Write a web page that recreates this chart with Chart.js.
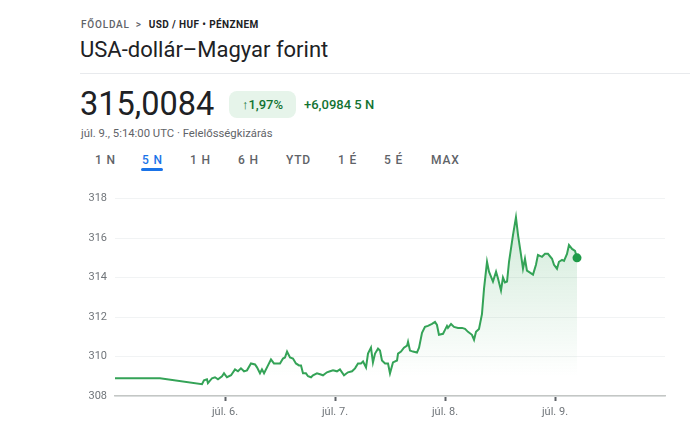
<!DOCTYPE html>
<html lang="hu">
<head>
<meta charset="utf-8">
<script src="https://cdn.jsdelivr.net/npm/chart.js@4.4.1/dist/chart.umd.min.js"></script>
<style>
    html, body { margin: 0; padding: 0; background: #fff; }
    body { width: 690px; height: 428px; position: relative; overflow: hidden; font-family: Roboto, Arial, sans-serif; color: #202124; }
    .abs { position: absolute; white-space: nowrap; }
    .crumb { left: 81px; top: 19px; font-size: 10px; letter-spacing: 0.8px; color: #5f6368; font-weight: 500; }
    .crumb b { color: #202124; font-weight: 700; letter-spacing: 0.4px; }
    .crumb .sep { margin: 0 7px 0 6px; color: #5f6368; }
    .title { left: 80px; top: 37px; font-size: 22px; color: #202124; }
    .divider { left: 80px; top: 73px; width: 610px; height: 1px; background: #e8eaed; }
    .price { left: 80px; top: 85px; font-size: 32.5px; color: #202124; }
    .badge { left: 229px; top: 91px; width: 67px; height: 27px; line-height: 27px; border-radius: 8px; background: #e6f4ea; color: #137333; font-size: 13px; font-weight: 500; text-align: center; }
    .change { left: 304px; top: 91px; line-height: 27px; font-size: 13px; font-weight: 500; color: #137333; }
    .sub { left: 81px; top: 127px; font-size: 11.3px; color: #5f6368; }
    .tab { top: 153px; font-size: 12px; font-weight: 500; letter-spacing: 0.8px; color: #5f6368; }
    .tab.on { color: #1a73e8; }
    .underline { left: 141px; top: 168px; width: 22px; height: 3px; border-radius: 2px; background: #1a73e8; }
    #wrap { position: absolute; left: 82px; top: 184px; width: 600px; height: 244px; }
</style>
</head>
<body>
<div class="abs crumb">FŐOLDAL<span class="sep">&gt;</span><b>USD / HUF • PÉNZNEM</b></div>
<div class="abs title">USA-dollár–Magyar forint</div>
<div class="abs divider"></div>
<div class="abs price">315,0084</div>
<div class="abs badge">↑1,97%</div>
<div class="abs change">+6,0984 5 N</div>
<div class="abs sub">júl. 9., 5:14:00 UTC · Felelősségkizárás</div>
<div class="abs tab" style="left:95px">1 N</div>
<div class="abs tab on" style="left:142px">5 N</div>
<div class="abs tab" style="left:190px">1 H</div>
<div class="abs tab" style="left:238px">6 H</div>
<div class="abs tab" style="left:286px">YTD</div>
<div class="abs tab" style="left:338px">1 É</div>
<div class="abs tab" style="left:384px">5 É</div>
<div class="abs tab" style="left:431px">MAX</div>
<div class="abs underline"></div>
<div id="wrap"><canvas id="arfolyam"></canvas></div>

<script>
// Időpontok (július napja, tört nap) és árfolyam értékek (HUF / USD)
const napok = [
    5.000, 5.409, 5.791, 5.809, 5.836, 5.845, 5.882, 5.909, 5.936, 5.973,
    5.991, 6.018, 6.055, 6.091, 6.118, 6.145, 6.173, 6.200, 6.236, 6.273,
    6.291, 6.318, 6.336, 6.355, 6.391, 6.418, 6.445, 6.473, 6.500, 6.527,
    6.545, 6.564, 6.591, 6.618, 6.645, 6.673, 6.691, 6.709, 6.736, 6.755,
    6.782, 6.800, 6.836, 6.864, 6.891, 6.927, 6.955, 6.982, 7.018, 7.045,
    7.082, 7.118, 7.155, 7.182, 7.209, 7.236, 7.255, 7.282, 7.300, 7.327,
    7.345, 7.364, 7.391, 7.409, 7.427, 7.455, 7.482, 7.500, 7.527, 7.564,
    7.573, 7.600, 7.627, 7.655, 7.664, 7.682, 7.709, 7.745, 7.764, 7.791,
    7.818, 7.845, 7.882, 7.909, 7.927, 7.945, 7.982, 8.000, 8.018, 8.027,
    8.055, 8.082, 8.118, 8.155, 8.182, 8.209, 8.245, 8.264, 8.282, 8.309,
    8.336, 8.355, 8.382, 8.400, 8.436, 8.464, 8.482, 8.509, 8.527, 8.545,
    8.564, 8.582, 8.618, 8.645, 8.664, 8.691, 8.709, 8.727, 8.745, 8.773,
    8.800, 8.827, 8.845, 8.882, 8.909, 8.936, 8.973, 8.991, 9.018, 9.036,
    9.064, 9.082, 9.109, 9.127, 9.155, 9.182, 9.200
];
const arfolyam = [
    308.90, 308.90, 308.60, 308.80, 308.85, 308.65, 308.90, 308.95, 308.85, 309.00,
    309.15, 308.95, 309.05, 309.35, 309.25, 309.40, 309.25, 309.30, 309.65, 309.60,
    309.45, 309.15, 309.35, 309.15, 309.55, 309.85, 309.65, 309.65, 309.65, 309.90,
    309.95, 310.25, 309.95, 309.90, 309.65, 309.55, 309.55, 309.15, 309.15, 309.00,
    308.95, 309.05, 309.15, 309.10, 309.05, 309.20, 309.25, 309.30, 309.25, 309.35,
    309.05, 309.20, 309.25, 309.40, 309.65, 309.65, 309.75, 309.45, 310.15, 310.45,
    309.70, 310.15, 310.40, 310.30, 309.80, 309.65, 309.65, 309.15, 309.70, 309.80,
    310.15, 310.25, 310.45, 310.55, 310.75, 310.30, 310.25, 310.20, 310.45, 311.20,
    311.50, 311.55, 311.65, 311.75, 311.60, 311.10, 311.15, 311.35, 311.55, 311.45,
    311.65, 311.50, 311.45, 311.45, 311.40, 311.25, 311.10, 310.85, 311.25, 311.40,
    312.15, 313.45, 314.80, 314.30, 313.80, 314.30, 313.95, 313.35, 314.00, 313.75,
    313.80, 314.80, 316.15, 317.05, 316.15, 315.15, 314.45, 314.95, 314.35, 314.25,
    314.15, 314.65, 315.15, 315.05, 315.20, 315.20, 314.95, 314.65, 314.45, 314.80,
    314.90, 314.85, 315.20, 315.65, 315.45, 315.35, 315.00
];

// Tengely feliratok
const napTickek = [6, 7, 8, 9];
const napFeliratok = ['júl. 6.', 'júl. 7.', 'júl. 8.', 'júl. 9.'];
const arTickek = [308, 310, 312, 314, 316, 318];

document.addEventListener('DOMContentLoaded', function () {
    const ctx = document.getElementById('arfolyam').getContext('2d');
    const utolso = napok.length - 1;

    new Chart(ctx, {
        type: 'line',
        data: {
            datasets: [{
                data: napok.map((n, i) => ({ x: n, y: arfolyam[i] })),
                borderColor: '#34a357',
                borderWidth: 2,
                tension: 0,
                fill: 'start',
                backgroundColor: function (context) {
                    const area = context.chart.chartArea;
                    if (!area) return 'rgba(52,163,87,0.15)';
                    const g = context.chart.ctx.createLinearGradient(0, area.top + 20, 0, area.bottom - 20);
                    g.addColorStop(0, 'rgba(52,163,87,0.22)');
                    g.addColorStop(1, 'rgba(52,163,87,0)');
                    return g;
                },
                pointRadius: napok.map((n, i) => i === utolso ? 4.5 : 0),
                pointBackgroundColor: '#1e9a48',
                pointBorderWidth: 0,
                pointHoverRadius: 0
            }]
        },
        options: {
            responsive: true,
            maintainAspectRatio: false,
            animation: false,
            layout: { padding: { top: 10, right: 17, left: 0, bottom: 0 } },
            plugins: {
                legend: { display: false },
                tooltip: { enabled: false }
            },
            scales: {
                x: {
                    type: 'linear',
                    min: 5,
                    max: 10,
                    afterBuildTicks: function (axis) {
                        axis.ticks = napTickek.map(v => ({ value: v }));
                    },
                    afterFit: function (axis) { axis.height = 32; },
                    grid: {
                        drawOnChartArea: false,
                        drawTicks: true,
                        tickLength: 5,
                        tickWidth: 2,
                        tickColor: '#5f6368'
                    },
                    border: { display: true, color: '#c4c7c5', width: 1.5 },
                    ticks: {
                        color: '#70757a',
                        font: { family: 'Roboto', size: 11 },
                        padding: 5,
                        maxRotation: 0,
                        callback: function (value) {
                            const i = napTickek.indexOf(value);
                            return i >= 0 ? napFeliratok[i] : '';
                        }
                    }
                },
                y: {
                    min: 308,
                    max: 318,
                    afterBuildTicks: function (axis) {
                        axis.ticks = arTickek.map(v => ({ value: v }));
                    },
                    afterFit: function (axis) { axis.width = 33; },
                    grid: {
                        color: '#f1f3f4',
                        drawTicks: false
                    },
                    border: { display: false },
                    ticks: {
                        color: '#70757a',
                        font: { family: 'Roboto', size: 11 },
                        padding: 8
                    }
                }
            }
        }
    });
});
</script>
</body>
</html>
